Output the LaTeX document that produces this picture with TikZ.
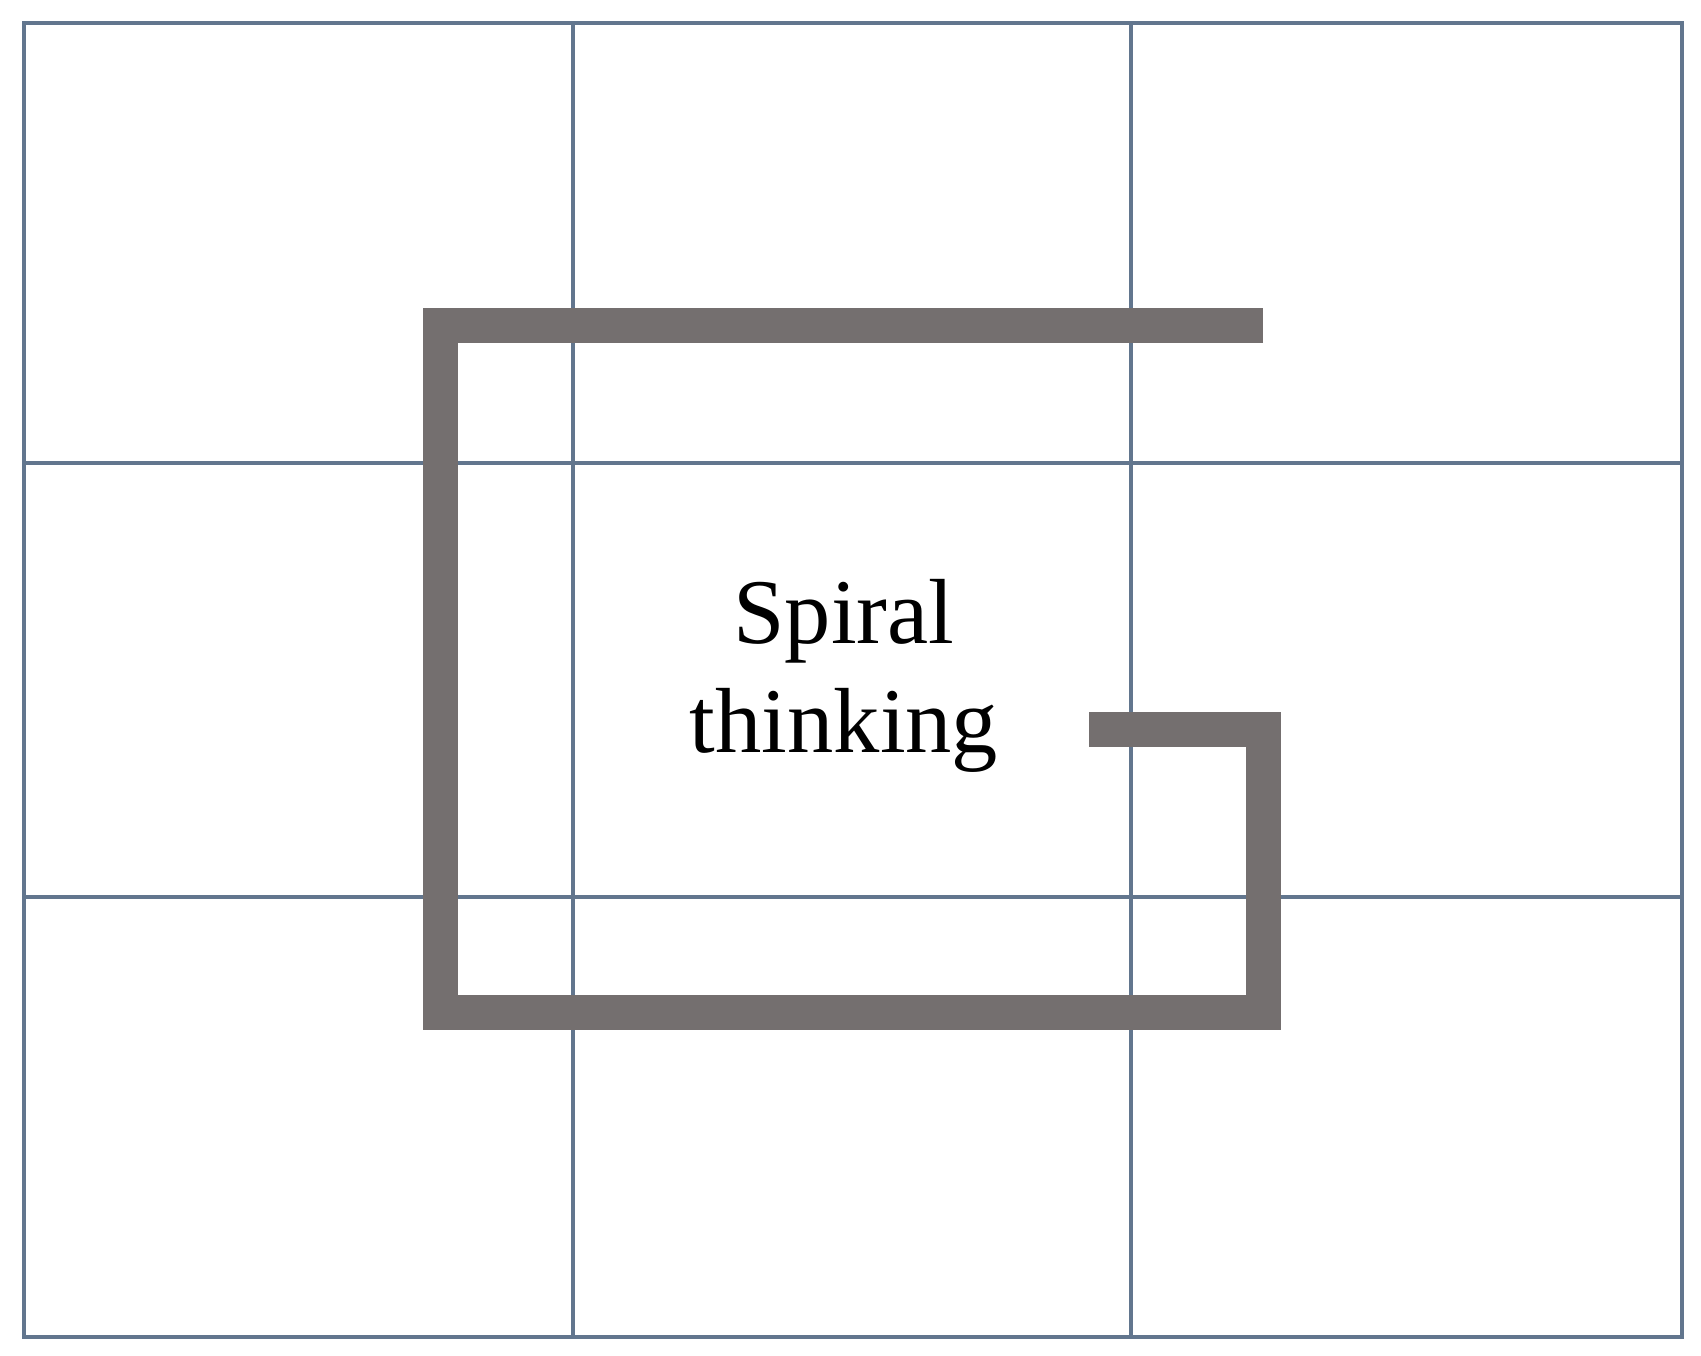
\documentclass[tikz,border=0pt]{standalone}
\usepackage{fontspec}
\setmainfont{Liberation Serif}
\usepackage{tikz}
\usetikzlibrary{positioning}

\definecolor{gridblue}{RGB}{98,118,142}
\definecolor{spiralgray}{RGB}{116,111,111}

\begin{document}
\begin{tikzpicture}[
    x=0.01cm, y=-0.01cm,
    grid/.style={draw=gridblue, line width=0.035cm},
    spiral/.style={draw=spiralgray, line width=0.35cm, line cap=butt, line join=miter},
    word/.style={anchor=base, inner sep=0pt, font=\fontsize{26.3}{31}\selectfont}
]
\useasboundingbox (0,0) rectangle (1701,1355);
% 3x3 grid
\draw[grid] (24,23) rectangle (1682,1337);
\draw[grid] (573,23) -- (573,1337);
\draw[grid] (1131,23) -- (1131,1337);
\draw[grid] (24,463) -- (1682,463);
\draw[grid] (24,897) -- (1682,897);
% spiral path
\coordinate (s0) at (1263,325.5);
\coordinate (s1) at (440.5,325.5);
\coordinate (s2) at (440.5,1012.5);
\coordinate (s3) at (1263.5,1012.5);
\coordinate (s4) at (1263.5,729.5);
\coordinate (s5) at (1089,729.5);
\draw[spiral] (s0) -- (s1) -- (s2) -- (s3) -- (s4) -- (s5);
% label
\node[word] (spiral) at (844,643) {Spiral};
\node[word] (thinking) at (844,752) {thinking};
\end{tikzpicture}
\end{document}
